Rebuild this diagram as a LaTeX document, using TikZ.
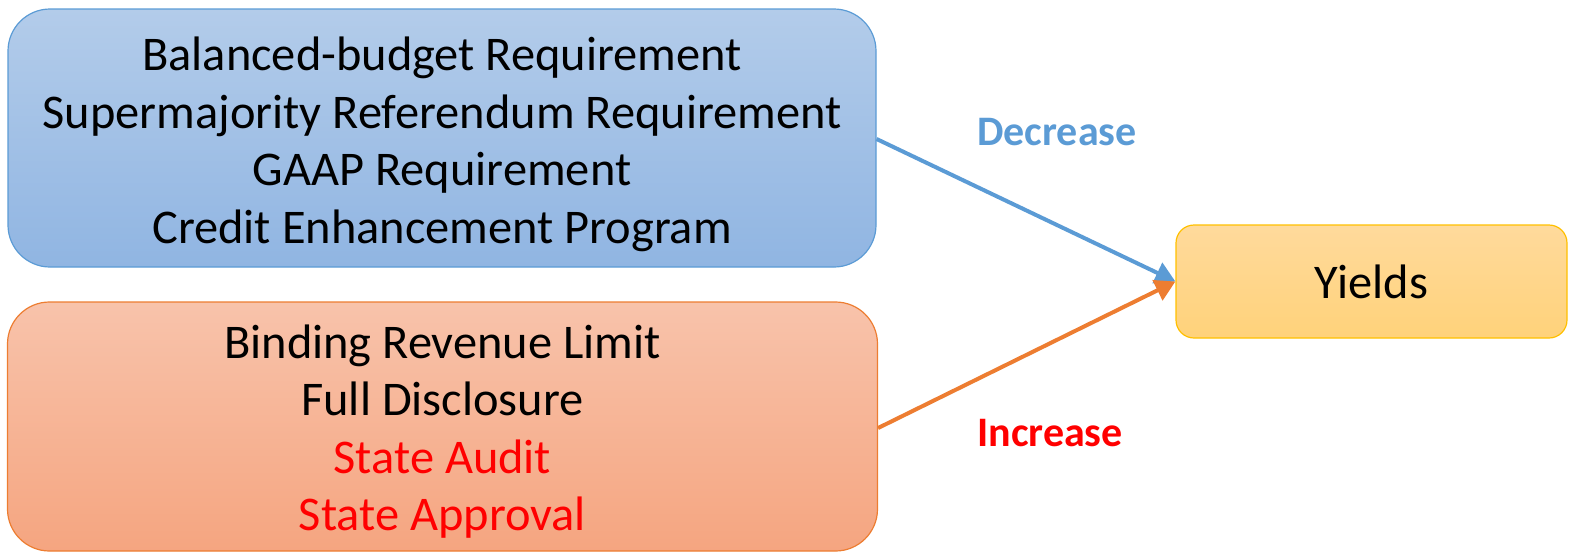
\documentclass[tikz,border=0pt]{standalone}
\usepackage{fontspec}
\setmainfont{Carlito}
\usetikzlibrary{arrows.meta}
\definecolor{blueline}{HTML}{5B9BD5}
\definecolor{bluetop}{HTML}{B3CCEA}
\definecolor{bluebot}{HTML}{90B5E2}
\definecolor{orangeline}{HTML}{ED7D31}
\definecolor{orangetop}{HTML}{F8C3AB}
\definecolor{orangebot}{HTML}{F5A580}
\definecolor{yellowline}{HTML}{FFC000}
\definecolor{yellowtop}{HTML}{FFDA9C}
\definecolor{yellowbot}{HTML}{FFD27A}
\tikzset{
  px/.style={x=0.5pt,y=-0.5pt},
  bigtext/.style={font=\fontsize{24.2}{28.75}\selectfont, align=center, inner sep=0pt},
  factorbox/.style={rounded corners=21pt, line width=0.6pt, inner sep=0pt},
  effect/.style={font=\fontsize{21}{25}\selectfont\bfseries, inner sep=0pt},
  link/.style={line width=2pt, -{Triangle[width=11pt,length=10pt]}},
}
\begin{document}
\begin{tikzpicture}[px]
  \useasboundingbox (0,0) rectangle (1570,553);
  % factor boxes
  \node[factorbox, draw=blueline, top color=bluetop, bottom color=bluebot,
        minimum width=434pt, minimum height=129pt] (cons) at (442,138) {};
  \node[bigtext] (constext) at (442,144.5)
    {Balanced-budget Requirement\\Supermajority Referendum Requirement\\GAAP Requirement\\Credit Enhancement Program};
  \node[factorbox, draw=orangeline, top color=orangetop, bottom color=orangebot,
        minimum width=435pt, minimum height=124.5pt] (lims) at (442.5,426.5) {};
  \node[bigtext] (limstext) at (442.5,431.5)
    {Binding Revenue Limit\\Full Disclosure\\\textcolor{red}{State Audit}\\\textcolor{red}{State Approval}};
  % outcome
  \node[bigtext, draw=yellowline, top color=yellowtop, bottom color=yellowbot,
        rounded corners=9pt, line width=0.6pt,
        minimum width=195.5pt, minimum height=56.5pt] (yields) at (1371.5,281.5) {Yields};
  % effects
  \coordinate (hit) at (yields.west);
  \draw[link, blueline] (cons.east |- 0,139) -- (hit);
  \draw[link, orangeline] (lims.east |- 0,428) -- (hit);
  \node[effect, text=blueline] (dec) at (1057,132) {Decrease};
  \node[effect, text=red] (inc) at (1050,433) {Increase};
\end{tikzpicture}
\end{document}
